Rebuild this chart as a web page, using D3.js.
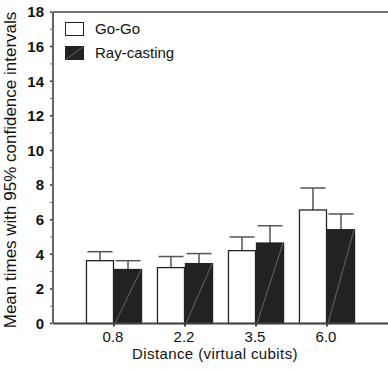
<!DOCTYPE html>
<html><head><meta charset="utf-8">
<script src="https://cdn.jsdelivr.net/npm/d3@7"></script>
<style>body{margin:0;background:#fff}svg{display:block}text{font-family:"Liberation Sans",Arial,sans-serif}</style>
</head><body>
<script>
const categories = ["0.8", "2.2", "3.5", "6.0"];
const seriesNames = ["Go-Go", "Ray-casting"];
const goGoMeans = [3.63, 3.23, 4.21, 6.56];
const goGoUpper = [4.15, 3.87, 5.0, 7.83];
const rayMeans = [3.12, 3.46, 4.65, 5.42];
const rayUpper = [3.63, 4.04, 5.65, 6.33];
const yTicks = [0, 2, 4, 6, 8, 10, 12, 14, 16, 18];
const yMinorTicks = [1, 3, 5, 7, 9, 11, 13, 15, 17];

const W = 388, H = 369;
const svg = d3.select("body").append("svg").attr("width", W).attr("height", H);

const x0 = d3.scaleBand().domain(categories).range([78.5, 362.5]).paddingInner(0.21).paddingOuter(0.105);
const x1 = d3.scaleBand().domain(seriesNames).range([0, x0.bandwidth()]);
const y = d3.scaleLinear().domain([0, 18]).range([323.5, 12]);

const fills = {"Go-Go": "#ffffff", "Ray-casting": "#222222"};
const data = [];
categories.forEach((c, i) => {
  data.push({cat: c, s: "Go-Go", v: goGoMeans[i], u: goGoUpper[i]});
  data.push({cat: c, s: "Ray-casting", v: rayMeans[i], u: rayUpper[i]});
});

// frame line
svg.append("line").attr("x1", 53).attr("x2", W).attr("y1", y(18)).attr("y2", y(18)).attr("stroke", "#444").attr("stroke-width", 1.5);

// error bars
const eb = svg.append("g");
data.forEach(d => {
  const xc = x0(d.cat) + x1(d.s) + x1.bandwidth() / 2;
  const hw = x1.bandwidth() / 2 - 1.5;
  eb.append("line").attr("x1", xc).attr("x2", xc).attr("y1", y(d.v)).attr("y2", y(d.u)).attr("stroke", "#555").attr("stroke-width", 1.5);
  eb.append("line").attr("x1", xc - hw).attr("x2", xc + hw).attr("y1", y(d.u)).attr("y2", y(d.u)).attr("stroke", "#555").attr("stroke-width", 1.5);
});

// bars
const bars = svg.append("g");
data.forEach(d => {
  const bx = x0(d.cat) + x1(d.s);
  bars.append("rect").attr("x", bx + 0.5).attr("y", y(d.v)).attr("width", x1.bandwidth() - 1).attr("height", y(0) - y(d.v))
    .attr("fill", fills[d.s]).attr("stroke", "#222").attr("stroke-width", 1.3);
  if (d.s === "Ray-casting") {
    bars.append("line").attr("x1", bx + 1).attr("y1", y(0)).attr("x2", bx + x1.bandwidth() - 1).attr("y2", y(d.v))
      .attr("stroke", "#777").attr("stroke-width", 0.8);
  }
});

// y axis
const yAxis = svg.append("g").attr("transform", "translate(53,0)");
yAxis.append("line").attr("x1", 0).attr("x2", 0).attr("y1", y(18)).attr("y2", y(0)).attr("stroke", "#333").attr("stroke-width", 1.5);
yAxis.selectAll("line.maj").data(yTicks).join("line").attr("class", "maj")
  .attr("x1", -3).attr("x2", -1).attr("y1", d => y(d)).attr("y2", d => y(d)).attr("stroke", "#333").attr("stroke-width", 1.5);
yAxis.selectAll("line.min").data(yMinorTicks).join("line").attr("class", "min")
  .attr("x1", -3).attr("x2", -1).attr("y1", d => y(d)).attr("y2", d => y(d)).attr("stroke", "#777").attr("stroke-width", 1);
yAxis.selectAll("text").data(yTicks).join("text")
  .attr("x", -9).attr("y", d => y(d)).attr("dy", "0.36em").attr("text-anchor", "end")
  .attr("font-size", 15).attr("font-weight", "bold").attr("fill", "#111").text(d => d);

// x axis
const xAxis = svg.append("g");
xAxis.append("line").attr("x1", 53).attr("x2", W).attr("y1", y(0)).attr("y2", y(0)).attr("stroke", "#444").attr("stroke-width", 2);
xAxis.selectAll("line.t").data(categories).join("line").attr("class", "t")
  .attr("x1", d => x0(d) + x0.bandwidth() / 2).attr("x2", d => x0(d) + x0.bandwidth() / 2)
  .attr("y1", y(0)).attr("y2", y(0) + 3).attr("stroke", "#444").attr("stroke-width", 2);
xAxis.selectAll("text").data(categories).join("text")
  .attr("x", d => x0(d) + x0.bandwidth() / 2 - 1).attr("y", 342).attr("text-anchor", "middle")
  .attr("font-size", 15).attr("fill", "#111").text(d => d);

svg.append("text").attr("x", 215).attr("y", 359).attr("text-anchor", "middle").attr("font-size", 15)
  .attr("letter-spacing", 0.4).attr("fill", "#111")
  .text("Distance (virtual cubits)");
svg.append("text").attr("transform", "translate(16,170) rotate(-90)").attr("text-anchor", "middle")
  .attr("font-size", 17).attr("fill", "#111").text("Mean times with 95% confidence intervals");

// legend
const lg = svg.append("g");
seriesNames.forEach((s, i) => {
  const ly = 22 + i * 24;
  lg.append("rect").attr("x", 65.5).attr("y", ly + 0.5).attr("width", 18).attr("height", 13)
    .attr("fill", fills[s]).attr("stroke", "#222").attr("stroke-width", 1);
  if (s === "Ray-casting") {
    lg.append("line").attr("x1", 66).attr("y1", ly + 13.5).attr("x2", 83).attr("y2", ly + 1).attr("stroke", "#777").attr("stroke-width", 0.8);
  }
  lg.append("text").attr("x", 95).attr("y", ly + 7).attr("dy", "0.36em").attr("font-size", 15).attr("fill", "#111").text(s);
});
</script>
</body></html>
